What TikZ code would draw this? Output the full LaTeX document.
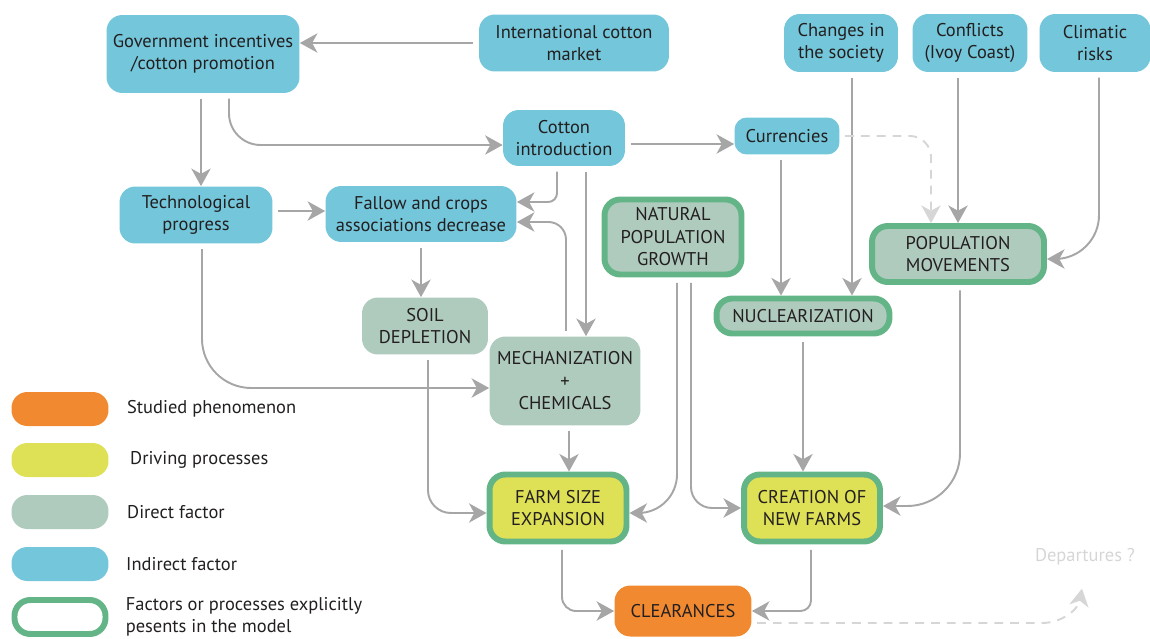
\documentclass[tikz,border=0pt]{standalone}
\usepackage{fontspec}
\setmainfont{PT Sans}
\usepackage{xcolor}
\usepackage{tikz}
\usetikzlibrary{arrows.meta,positioning}
\definecolor{indirectblue}{HTML}{74C7DA}
\definecolor{directgreen}{HTML}{AFCBBE}
\definecolor{drivingyellow}{HTML}{DEE055}
\definecolor{studiedorange}{HTML}{F0892F}
\definecolor{modelgreen}{HTML}{63B487}
\definecolor{arrowgray}{HTML}{A6A6A6}
\definecolor{departgray}{HTML}{D6D6D6}
\definecolor{textdark}{HTML}{231F20}

\begin{document}
\begin{tikzpicture}[x=0.02cm, y=-0.02cm,
    box/.style={rounded corners=9pt, align=center, inner sep=2pt, text=textdark,
      font=\fontsize{10.5}{12.8}\selectfont},
    indirect/.style={box, fill=indirectblue},
    direct/.style={box, fill=directgreen},
    driving/.style={box, fill=drivingyellow},
    studied/.style={box, fill=studiedorange},
    inmodel/.style={draw=modelgreen, line width=3.4pt},
    legtext/.style={inner sep=0pt, align=left, text=textdark,
      font=\fontsize{10.5}{12.8}\selectfont},
    arr/.style={draw=arrowgray, line width=1.1pt, shorten <=3pt,
      -{Stealth[length=10pt, width=11pt, inset=3pt]}},
    dasharr/.style={arr, draw=departgray, dashed, dash pattern=on 5pt off 4pt}]
  \useasboundingbox (0,0) rectangle (1150,639);

  % indirect factors
  \node[indirect, minimum width=3.86cm, minimum height=1.56cm] (gov) at (203,54) {Government incentives\\/cotton promotion};
  \node[indirect, minimum width=3.8cm, minimum height=1.14cm] (intl) at (574,43) {International cotton\\market};
  \node[indirect, minimum width=2.28cm, minimum height=1.16cm] (soc) at (841,43) {Changes in\\the society};
  \node[indirect, minimum width=2.3cm, minimum height=1.16cm] (conf) at (970,43) {Conflicts\\(Ivoy Coast)};
  \node[indirect, minimum width=2.22cm, minimum height=1.16cm] (clim) at (1095,43) {Climatic\\risks};
  \node[indirect, minimum width=2.44cm, minimum height=1.12cm] (cot) at (564,138) {Cotton\\introduction};
  \node[indirect, minimum width=2.1cm, minimum height=0.74cm, rounded corners=7pt] (cur) at (787,136) {Currencies};
  \node[indirect, minimum width=3.06cm, minimum height=1.14cm] (tech) at (196,215) {Technological\\progress};
  \node[indirect, minimum width=3.82cm, minimum height=1.12cm] (fal) at (421,214) {Fallow and crops\\associations decrease};

  % direct factors
  \node[direct, inmodel, minimum width=2.74cm, minimum height=1.5cm] (natpop) at (673,237) {NATURAL\\POPULATION\\GROWTH};
  \node[direct, inmodel, minimum width=3.44cm, minimum height=1.12cm] (pop) at (958,254) {POPULATION\\MOVEMENTS};
  \node[direct, minimum width=2.52cm, minimum height=1.14cm] (soil) at (425,326) {SOIL\\DEPLETION};
  \node[direct, inmodel, minimum width=3.46cm, minimum height=0.7cm] (nuc) at (803,316) {NUCLEARIZATION};
  \node[direct, minimum width=3.02cm, minimum height=1.78cm] (mech) at (565,381) {MECHANIZATION\\+\\CHEMICALS};

  % driving processes and studied phenomenon
  \node[driving, inmodel, minimum width=2.74cm, minimum height=1.34cm] (farm) at (558,508) {FARM SIZE\\EXPANSION};
  \node[driving, inmodel, minimum width=2.72cm, minimum height=1.34cm] (cre) at (812,508) {CREATION OF\\NEW FARMS};
  \node[studied, minimum width=2.74cm, minimum height=1.02cm] (clr) at (683,611) {CLEARANCES};
  \node[text=departgray, font=\fontsize{10.5}{12.8}\selectfont] (dep) at (1085,557) {Departures ?};

  % legend
  \node[studied, minimum width=1.94cm, minimum height=0.68cm] (lstud) at (60,409) {};
  \node[legtext, right=0.36cm of lstud] {Studied phenomenon};
  \node[driving, minimum width=1.94cm, minimum height=0.68cm] (ldriv) at (60,460) {};
  \node[legtext, right=0.42cm of ldriv] {Driving processes};
  \node[direct, minimum width=1.94cm, minimum height=0.68cm] (ldir) at (60,512) {};
  \node[legtext, right=0.36cm of ldir] {Direct factor};
  \node[indirect, minimum width=1.94cm, minimum height=0.68cm] (lind) at (60,564) {};
  \node[legtext, right=0.34cm of lind] {Indirect factor};
  \node[box, inmodel, fill=white, minimum width=1.82cm, minimum height=0.68cm] (lmod) at (60,617) {};
  \node[legtext, right=0.34cm of lmod] {Factors or processes explicitly\\pesents in the model};

  % connectors
  \draw[arr] (intl.west) -- (intl.west -| gov.east);
  \draw[arr] ([xshift=-0.04cm]gov.south) -- ([xshift=-0.04cm]gov.south |- tech.north);
  \draw[arr, rounded corners=18pt] ([xshift=0.52cm]gov.south) |- ([yshift=-0.14cm]cot.west);
  \draw[arr] ([yshift=0.08cm]tech.east) -- ([yshift=0.08cm]tech.east -| fal.west);
  \draw[arr, rounded corners=5pt] ([xshift=-0.14cm]cot.south) |- ([yshift=0.24cm]fal.east);
  \draw[arr] ([xshift=0.44cm]cot.south) -- ([xshift=0.44cm]cot.south |- mech.north);
  \draw[arr, rounded corners=10pt] ([xshift=0.02cm]mech.north) |- ([yshift=-0.16cm]fal.east);
  \draw[arr] ([yshift=-0.12cm]cot.east) -- ([yshift=-0.12cm]cot.east -| cur.west);
  \draw[arr] ([xshift=-0.12cm]cur.south) -- ([xshift=-0.12cm]cur.south |- nuc.north);
  \draw[arr] ([xshift=0.22cm]soc.south) -- ([xshift=0.22cm]soc.south |- nuc.north);
  \draw[arr] ([xshift=-0.24cm]conf.south) -- ([xshift=-0.24cm]conf.south |- pop.north);
  \draw[arr, rounded corners=25pt] ([xshift=0.08cm]clim.south) |- ([yshift=-0.1cm]pop.east);
  \draw[dasharr, rounded corners=12pt] (cur.east) -| ([xshift=-0.54cm]pop.north);
  \draw[arr] (fal.south) -- (fal.south |- soil.north);
  \draw[arr, rounded corners=28pt] ([xshift=0.12cm]tech.south) |- ([yshift=-0.14cm]mech.west);
  \draw[arr, rounded corners=13pt] ([xshift=0.06cm]soil.south) |- ([yshift=-0.1cm]farm.west);
  \draw[arr] ([xshift=0.08cm]mech.south) -- ([xshift=0.08cm]mech.south |- farm.north);
  \draw[arr, rounded corners=22pt] ([xshift=0.08cm]natpop.south) |- ([yshift=-0.1cm]farm.east);
  \draw[arr, rounded corners=12pt] ([xshift=0.36cm]natpop.south) |- (cre.west);
  \draw[arr] (nuc.south) -- (nuc.south |- cre.north);
  \draw[arr, rounded corners=30pt] ([xshift=0.04cm]pop.south) |- ([yshift=0.04cm]cre.east);
  \draw[arr, rounded corners=8pt] ([xshift=0.08cm]farm.south) |- (clr.west);
  \draw[arr, rounded corners=6pt] ([xshift=-0.02cm]cre.south) |- (clr.east);
  \draw[dasharr] ([yshift=-0.24cm]clr.east) -- ++(5.8cm,0) to[out=0, in=-100] ([xshift=-0.06cm, yshift=-0.34cm]dep.south);
\end{tikzpicture}
\end{document}
